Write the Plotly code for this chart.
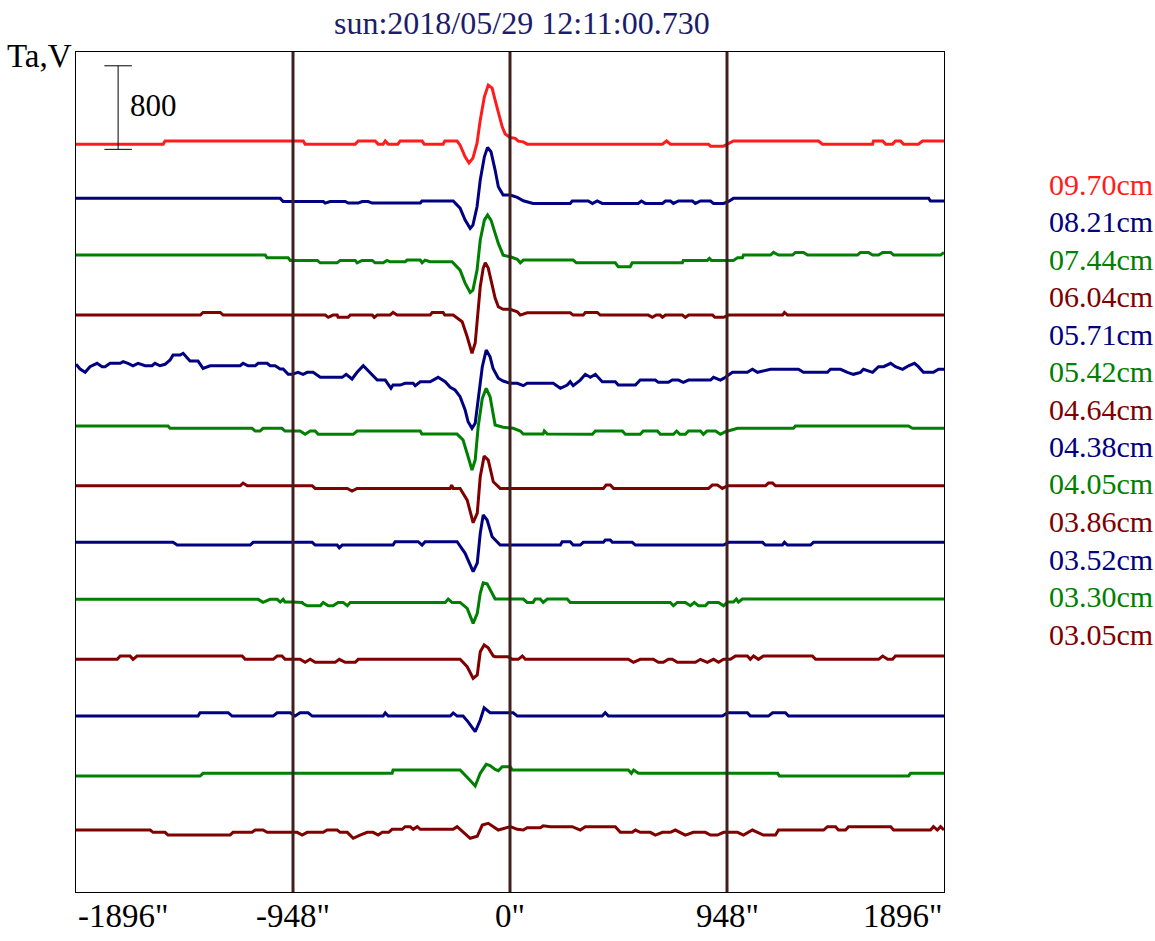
import plotly.graph_objects as go

# ---------------- data ----------------
TITLE = "sun:2018/05/29 12:11:00.730"
Y_LABEL = "Ta,V"
X_RANGE = [-1896, 1896]
Y_RANGE = [0, 8040]
TICK_VALUES = [-1896, -948, 0, 948, 1896]
TICK_TEXT = ['-1896"', '-948"', '0"', '948"', '1896"']
VLINES = [-948, 0, 948]
SCALE_VALUE = 800
SCALE_X = -1712
SCALE_BOTTOM = 7108

WAVELENGTHS = ["09.70cm", "08.21cm", "07.44cm", "06.04cm", "05.71cm", "05.42cm",
               "04.64cm", "04.38cm", "04.05cm", "03.86cm", "03.52cm", "03.30cm", "03.05cm"]
COLORS = ["#ff1c1c", "#000080", "#008000", "#800000", "#000080", "#008000",
          "#800000", "#000080", "#008000", "#800000", "#000080", "#008000", "#800000"]
OFFSETS = [7158, 6639, 6096, 5522, 4996, 4460, 3888, 3347, 2801, 2227, 1684, 1110, 593]

T_0970 = [(-1896,0),(-1515,0),(-1507,30),(-903,30),(-895,0),(-676,0),(-663,30),(-589,30),(-576,0),
          (-554,0),(-545,30),(-532,0),(-490,0),(-480,30),(-384,30),(-375,0),(-292,0),(-285,30),(-231,30),
          (-218,-10),(-196,-122),(-179,-180),(-162,-134),(-144,10),(-130,230),(-112,453),(-95,565),
          (-78,536),(-65,421),(-51,297),(-34,166),(-21,96),(1,64),(23,55),(36,29),(58,22),(75,0),
          (666,0),(684,30),(701,0),(867,0),(876,-19),(933,-19),(950,0),(976,30),(1348,30),(1365,0),
          (1584,0),(1588,30),(1628,30),(1641,0),(1671,0),(1684,30),(1706,30),(1719,0),(1784,0),
          (1802,30),(1896,30)]
T_0821 = [(-1896,0),(-1004,0),(-991,-30),(-816,-30),(-807,-45),(-786,-30),(-720,-30),(-707,-45),
          (-663,-45),(-646,-30),(-620,-30),(-602,-45),(-392,-45),(-385,-25),(-248,-25),(-218,-93),
          (-196,-208),(-174,-287),(-162,-256),(-144,-80),(-130,175),(-112,398),(-98,488),(-83,446),
          (-65,271),(-51,111),(-30,32),(1,32),(32,10),(58,-23),(101,-48),(263,-48),(272,-25),(342,-25),
          (360,-50),(381,-25),(403,-48),(560,-48),(574,-25),(591,-48),(666,-48),(679,-25),(701,-25),
          (714,-48),(736,-25),(797,-25),(810,-48),(832,-25),(876,-25),(889,-48),(933,-48),(955,-30),
          (976,0),(1829,0),(1837,-26),(1896,-26)]
T_0744 = [(-1896,0),(-1069,0),(-1061,-26),(-969,-26),(-960,-51),(-842,-51),(-829,-74),(-755,-74),
          (-742,-51),(-676,-51),(-668,-74),(-646,-51),(-602,-51),(-589,-74),(-554,-74),(-537,-51),
          (-524,-64),(-458,-64),(-450,-48),(-392,-48),(-384,-74),(-371,-48),(-349,-64),(-253,-64),
          (-218,-144),(-196,-268),(-174,-357),(-162,-335),(-144,-144),(-130,144),(-112,335),(-98,383),
          (-83,335),(-65,207),(-51,112),(-30,0),(1,-16),(32,-41),(45,-74),(58,-48),(276,-48),(290,-74),
          (460,-74),(473,-112),(525,-112),(534,-74),(753,-74),(757,-51),(862,-51),(871,-32),(880,-51),
          (976,-51),(994,-26),(1015,-26),(1020,0),(1138,0),(1151,26),(1173,0),(1234,0),(1247,26),
          (1282,26),(1300,0),(1518,0),(1531,26),(1566,26),(1584,0),(1610,0),(1628,26),(1663,26),
          (1676,0),(1881,0),(1896,26)]
T_0604 = [(-1896,0),(-1353,0),(-1341,25),(-1266,25),(-1253,0),(-807,0),(-794,-22),(-773,0),(-755,0),
          (-751,-22),(-707,-22),(-698,0),(-602,0),(-593,-22),(-580,0),(-524,0),(-511,25),(-493,0),
          (-349,0),(-340,25),(-292,25),(-285,0),(-248,0),(-209,-64),(-187,-208),(-166,-366),(-152,-268),
          (-143,-16),(-130,271),(-117,450),(-108,500),(-95,450),(-78,271),(-65,163),(-51,80),(-30,55),
          (1,55),(32,32),(45,0),(75,22),(263,22),(276,0),(320,0),(329,25),(381,25),(394,0),(604,0),
          (622,-22),(639,0),(656,0),(666,-22),(679,0),(753,0),(766,-22),(780,0),(885,0),(895,-22),
          (933,-22),(955,0),(1191,0),(1199,25),(1212,0),(1896,0)]
T_0571 = [(-1896,55),(-1878,10),(-1856,-22),(-1835,32),(-1804,64),(-1782,32),(-1769,32),(-1747,64),
          (-1703,64),(-1690,80),(-1669,64),(-1647,41),(-1625,64),(-1594,41),(-1564,41),(-1551,64),
          (-1529,41),(-1507,55),(-1485,96),(-1472,144),(-1441,144),(-1428,160),(-1398,86),(-1363,86),
          (-1341,16),(-1310,41),(-1179,41),(-1166,64),(-1144,41),(-1113,41),(-1100,64),(-1061,64),
          (-1048,41),(-1026,41),(-1004,10),(-991,10),(-969,-41),(-952,-41),(-926,-22),(-904,-41),
          (-886,-22),(-860,-22),(-829,-70),(-733,-70),(-716,-41),(-690,-86),(-668,-22),(-641,41),
          (-580,-96),(-545,-96),(-520,-175),(-511,-144),(-480,-144),(-458,-127),(-423,-127),(-414,-150),
          (-392,-112),(-349,-112),(-314,-70),(-283,-112),(-261,-166),(-240,-191),(-218,-255),(-196,-383),
          (-183,-495),(-166,-558),(-152,-510),(-139,-287),(-121,32),(-104,191),(-87,127),(-74,16),
          (-51,-79),(-30,-105),(1,-127),(32,-127),(58,-150),(75,-127),(189,-127),(220,-175),(250,-144),
          (263,-112),(276,-150),(307,-96),(329,-41),(351,-70),(373,-41),(403,-112),(460,-112),(473,-144),
          (548,-144),(569,-96),(635,-96),(648,-118),(692,-118),(709,-96),(736,-96),(757,-118),(780,-96),
          (876,-96),(889,-70),(919,-96),(933,-80),(972,-22),(1037,-22),(1059,7),(1081,-22),(1138,7),
          (1260,7),(1282,-22),(1387,-22),(1400,7),(1444,7),(1474,-22),(1500,-41),(1531,-22),(1544,7),
          (1584,-22),(1610,32),(1632,32),(1663,64),(1684,32),(1715,7),(1741,41),(1767,64),(1784,32),
          (1806,-22),(1850,-22),(1872,7),(1896,7)]
T_0542 = [(-1896,0),(-1494,0),(-1485,-22),(-1127,-22),(-1113,-48),(-1092,-48),(-1079,-22),(-996,-22),
          (-983,-48),(-917,-48),(-895,-79),(-873,-48),(-851,-48),(-838,-79),(-685,-79),(-668,-48),
          (-392,-48),(-385,-77),(-231,-77),(-205,-134),(-183,-294),(-166,-421),(-152,-325),(-139,-7),
          (-121,265),(-104,361),(-87,280),(-65,10),(-30,-12),(14,-22),(45,-48),(58,-77),(145,-77),
          (150,-48),(163,-77),(360,-79),(373,-48),(491,-48),(504,-79),(569,-79),(582,-48),(644,-48),
          (657,-79),(714,-79),(728,-48),(742,-79),(766,-79),(780,-48),(832,-48),(845,-79),(860,-48),
          (898,-48),(919,-79),(941,-55),(994,-22),(1238,-22),(1247,0),(1741,0),(1758,-22),(1896,-22)]
T_0464 = [(-1896,0),(-1179,0),(-1166,26),(-1148,0),(-864,0),(-851,-25),(-711,-25),(-690,-51),
          (-668,-25),(-261,-25),(-255,7),(-248,-25),(-218,-25),(-187,-137),(-161,-354),(-143,-261),
          (-130,86),(-113,284),(-95,246),(-73,38),(-43,-25),(408,-25),(420,7),(438,7),(452,-25),
          (867,-25),(884,7),(906,7),(928,-25),(950,0),(1116,0),(1129,26),(1147,26),(1160,0),(1896,0)]
T_0438 = [(-1896,0),(-1472,0),(-1454,-26),(-1135,-26),(-1122,0),(-864,0),(-851,-26),(-755,-26),
          (-746,-52),(-733,-26),(-511,-26),(-502,6),(-401,6),(-384,-26),(-371,6),(-231,6),(-196,-105),
          (-161,-281),(-143,-198),(-130,86),(-117,261),(-100,213),(-78,54),(-43,-26),(220,-26),(228,6),
          (263,6),(276,-26),(307,-26),(320,0),(408,0),(416,22),(438,22),(447,0),(534,0),(548,-26),
          (933,-26),(955,0),(1103,0),(1116,-26),(1190,-26),(1199,0),(1212,-26),(1313,-26),(1326,0),
          (1896,0)]
T_0405 = [(-1896,0),(-1100,0),(-1079,-29),(-1048,0),(-1017,0),(-1004,-26),(-991,0),(-983,-26),
          (-952,-26),(-926,-29),(-908,-29),(-904,-40),(-886,-61),(-829,-61),(-816,-29),(-794,-61),
          (-773,-61),(-751,-29),(-729,-29),(-711,-61),(-698,-29),(-283,-29),(-270,3),(-253,-29),
          (-218,-29),(-187,-86),(-161,-230),(-143,-134),(-130,57),(-117,159),(-100,150),(-65,3),(58,3),
          (75,-29),(101,-29),(110,3),(132,3),(145,-29),(163,3),(250,3),(263,-29),(700,-29),(714,-61),
          (731,-29),(766,-29),(788,-61),(805,-29),(823,-61),(853,-61),(867,-29),(911,-29),(933,-61),
          (950,-26),(976,-26),(989,3),(998,-26),(1015,3),(1896,3)]
T_0386 = [(-1896,0),(-1716,0),(-1703,32),(-1660,32),(-1647,0),(-1629,32),(-1170,32),(-1157,0),
          (-1035,0),(-1017,32),(-996,32),(-983,0),(-917,0),(-895,-29),(-873,0),(-851,-29),(-764,-29),
          (-746,0),(-720,-29),(-676,-29),(-663,0),(-218,0),(-187,-71),(-161,-182),(-143,-150),(-130,73),
          (-113,137),(-95,110),(-73,32),(-65,25),(-8,25),(10,0),(36,0),(54,32),(67,0),(517,0),(539,-29),
          (569,0),(626,0),(648,-29),(670,-29),(692,0),(709,0),(731,-29),(810,-29),(832,0),(862,-29),
          (889,0),(911,-29),(933,0),(963,0),(985,32),(1037,32),(1050,0),(1064,32),(1085,0),(1107,32),
          (1321,32),(1335,0),(1610,0),(1628,32),(1650,0),(1671,0),(1684,32),(1896,32)]
T_0352 = [(-1896,0),(-1363,0),(-1354,32),(-1231,32),(-1214,0),(-1035,0),(-1017,32),(-960,32),
          (-939,0),(-917,32),(-882,32),(-864,0),(-554,0),(-545,30),(-532,0),(-261,0),(-248,30),(-231,0),
          (-205,0),(-183,-55),(-152,-150),(-130,-38),(-113,79),(-87,32),(14,32),(32,0),(403,0),(416,32),
          (430,0),(928,0),(950,32),(1037,32),(1050,0),(1129,0),(1147,32),(1203,32),(1217,0),(1896,0)]
T_0330 = [(-1896,0),(-1354,0),(-1341,26),(-515,26),(-511,57),(-218,57),(-183,-22),(-152,-96),
          (-130,26),(-104,112),(-87,100),(-65,64),(-51,51),(-34,89),(1,89),(10,57),(517,57),(530,26),
          (540,57),(561,26),(1169,26),(1177,0),(1741,0),(1750,26),(1896,26)]
T_0305 = [(-1896,0),(-1572,0),(-1559,-22),(-1507,-22),(-1494,-48),(-1223,-48),(-1210,-22),
          (-1127,-22),(-1113,0),(-1079,0),(-1061,-22),(-930,-22),(-908,-48),(-886,-22),(-816,-22),
          (-799,0),(-755,0),(-742,-22),(-711,-22),(-685,-79),(-655,-48),(-624,-22),(-598,-22),(-576,-48),
          (-558,-22),(-530,-22),(-515,7),(-471,7),(-458,32),(-436,32),(-423,7),(-405,32),(-392,7),
          (-248,7),(-231,32),(-174,-79),(-143,-60),(-121,48),(-95,64),(-51,0),(1,32),(32,7),(58,0),
          (75,22),(132,22),(145,40),(176,32),(272,32),(307,0),(329,32),(460,32),(482,-22),(534,-22),
          (548,0),(569,-22),(613,-22),(635,-48),(666,-22),(701,-22),(722,0),(766,-48),(801,-22),
          (853,-22),(876,-48),(906,-48),(933,-22),(994,-22),(1020,-48),(1059,0),(1081,-22),(1107,-48),
          (1160,-48),(1173,0),(1370,0),(1387,32),(1422,32),(1435,0),(1466,0),(1479,32),(1663,32),
          (1676,0),(1837,0),(1850,32),(1867,0),(1881,32),(1896,0)]

PROFILES = [T_0970, T_0821, T_0744, T_0604, T_0571, T_0542, T_0464,
            T_0438, T_0405, T_0386, T_0352, T_0330, T_0305]

# ---------------- figure ----------------
FONT = "Liberation Serif, Times New Roman, serif"

fig = go.Figure()
for prof, off, col in zip(PROFILES, OFFSETS, COLORS):
    xs = [p[0] for p in prof]
    ys = [p[1] + off for p in prof]
    fig.add_trace(go.Scatter(x=xs, y=ys, mode="lines",
                             line=dict(color=col, width=3), hoverinfo="skip"))

shapes = []
for v in VLINES:
    shapes.append(dict(type="line", xref="x", yref="paper", x0=v, x1=v, y0=0, y1=1,
                       line=dict(color="#40201e", width=3), layer="above"))
# scale bar
cap = 60
shapes.append(dict(type="line", x0=SCALE_X, x1=SCALE_X, y0=SCALE_BOTTOM,
                   y1=SCALE_BOTTOM + SCALE_VALUE, line=dict(color="black", width=1)))
for yy in (SCALE_BOTTOM, SCALE_BOTTOM + SCALE_VALUE):
    shapes.append(dict(type="line", x0=SCALE_X - cap, x1=SCALE_X + cap, y0=yy, y1=yy,
                       line=dict(color="black", width=1)))

ann = []
ann.append(dict(x=SCALE_X + 42, y=SCALE_BOTTOM + SCALE_VALUE * 0.52, xref="x", yref="y",
                text=str(SCALE_VALUE), showarrow=False, xanchor="left", yanchor="middle",
                font=dict(family=FONT, size=31, color="black")))
# x tick labels
anchors = ["left", "center", "center", "center", "right"]
for tv, tt, an in zip(TICK_VALUES, TICK_TEXT, anchors):
    ann.append(dict(x=tv, y=-0.028, xref="x", yref="paper", text=tt, showarrow=False,
                    xanchor=an, yanchor="middle", font=dict(family=FONT, size=33, color="black")))
# title & y label
ann.append(dict(x=0.514, y=1.035, xref="paper", yref="paper", text=TITLE, showarrow=False,
                xanchor="center", yanchor="middle", font=dict(family=FONT, size=32, color="#1c1c6c")))
ann.append(dict(x=-0.0818, y=0.995, xref="paper", yref="paper", text=Y_LABEL, showarrow=False,
                xanchor="left", yanchor="middle", font=dict(family=FONT, size=33, color="black")))
# wavelength labels
for i, (w, c) in enumerate(zip(WAVELENGTHS, COLORS)):
    py = 184 + i * 37.5
    ann.append(dict(x=1.1185, y=(892 - py) / 840, xref="paper", yref="paper", text=w,
                    showarrow=False, xanchor="left", yanchor="middle",
                    font=dict(family=FONT, size=30, color=c)))

fig.update_layout(
    width=1155, height=941,
    margin=dict(l=76, r=211, t=52, b=49),
    paper_bgcolor="white", plot_bgcolor="white",
    showlegend=False, shapes=shapes, annotations=ann,
    xaxis=dict(range=X_RANGE, showgrid=False, zeroline=False, showline=True, mirror=True,
               linecolor="black", linewidth=1, showticklabels=False, ticks=""),
    yaxis=dict(range=Y_RANGE, showgrid=False, zeroline=False, showline=True, mirror=True,
               linecolor="black", linewidth=1, showticklabels=False, ticks=""),
)
fig.write_html("out.html", config={"displayModeBar": False},
               post_script="document.body.style.margin='0';document.body.style.overflow='hidden';")
